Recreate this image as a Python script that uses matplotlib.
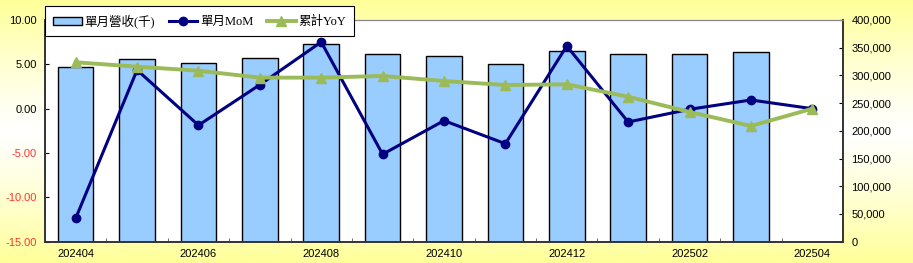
import numpy as np
import matplotlib
matplotlib.use("Agg")
from matplotlib import pyplot as plt
from matplotlib.ticker import FuncFormatter, MultipleLocator

months = ["202404", "202405", "202406", "202407", "202408", "202409", "202410",
          "202411", "202412", "202501", "202502", "202503", "202504"]
revenue = [315200, 329600, 322400, 331400, 356700, 338700, 335000,
           320600, 344100, 338700, 338700, 342300]
mom = [-12.36, 4.36, -1.87, 2.70, 7.52, -5.14, -1.35, -3.95, 7.07, -1.50, -0.07, 0.98, 0.00]
yoy = [5.23, 4.74, 4.28, 3.50, 3.50, 3.69, 3.12, 2.67, 2.75, 1.35, -0.37, -1.95, 0.00]

plt.rcParams['font.family'] = ['Liberation Sans', 'Noto Sans CJK TC']

fig = plt.figure(figsize=(9.13, 2.63), dpi=100)

# yellow gradient background
bg = fig.add_axes([0, 0, 1, 1], zorder=-10)
t = np.abs(np.linspace(-1, 1, 200))[:, None] * np.ones((1, 10))
t = np.clip(t ** 1.2, 0, 1)
img = np.ones((200, 10, 3))
img[..., 2] = 1 - t * (1 - 153 / 255)
bg.imshow(img, aspect='auto', extent=[0, 1, 0, 1])
bg.axis('off')

ax2 = fig.add_axes([45 / 913, 1 - 241.7 / 263, 798 / 913, 221.7 / 263])
ax = ax2.twinx()
ax.yaxis.tick_left()
ax2.yaxis.tick_right()
ax.set_zorder(ax2.get_zorder() + 1)
ax.patch.set_visible(False)
ax2.set_facecolor('white')

x = np.arange(len(months))
bars = ax2.bar(x[:len(revenue)], revenue, width=0.58, color='#99CCFF',
               edgecolor='black', linewidth=1.0, label='單月營收(千)')
l1, = ax.plot(x, mom, color='#000080', marker='o', markersize=6, linewidth=2.2,
              label='單月MoM')
l2, = ax.plot(x, yoy, color='#9BBB59', marker='^', markersize=7, linewidth=2.8,
              label='累計YoY')

ax.set_xlim(-0.5, len(months) - 0.5)
ax.set_ylim(-15, 10)
ax2.set_ylim(0, 400000)
ax.yaxis.set_major_locator(MultipleLocator(5))
ax2.yaxis.set_major_locator(MultipleLocator(50000))
ax.yaxis.set_major_formatter(FuncFormatter(lambda v, p: f"{v:.2f}"))
ax2.yaxis.set_major_formatter(FuncFormatter(lambda v, p: f"{int(v):,}"))

ax2.set_xticks(x[::2])
ax2.set_xticklabels(months[::2])
ax2.set_xticks(np.arange(-0.5, len(months), 1), minor=True)
ax2.tick_params(axis='x', which='major', length=0, labelsize=8, pad=5)
ax2.tick_params(axis='x', which='minor', direction='in', length=3, color='#555555')
ax.tick_params(axis='y', direction='in', length=3, labelsize=8, pad=6)
ax2.tick_params(axis='y', direction='in', length=3, labelsize=8, pad=6)

fig.canvas.draw()
for v, lab in zip(ax.get_yticks(), ax.get_yticklabels()):
    if v < 0:
        lab.set_color('#FF3333')

for a in (ax, ax2):
    a.spines['top'].set_color('#888888')
    a.spines['left'].set_color('#333333')
    a.spines['right'].set_color('#333333')
    a.spines['bottom'].set_color('#333333')
    a.spines['left'].set_linewidth(1.2)
    a.spines['right'].set_linewidth(1.2)
    a.spines['bottom'].set_linewidth(1.2)

leg = fig.legend(handles=[bars, l1, l2], loc='upper left', ncol=3,
                 bbox_to_anchor=(45 / 913, 1 - 6 / 263), borderaxespad=0,
                 frameon=True, fancybox=False, framealpha=1,
                 edgecolor='black', facecolor='white', handlelength=2.3,
                 handleheight=0.6, handletextpad=0.2, columnspacing=1.1,
                 borderpad=0.65,
                 prop={'family': ['Liberation Serif', 'Noto Sans CJK TC'], 'size': 9})
leg.get_frame().set_linewidth(0.8)
leg.set_zorder(20)

fig.savefig('out.png', dpi=100)
